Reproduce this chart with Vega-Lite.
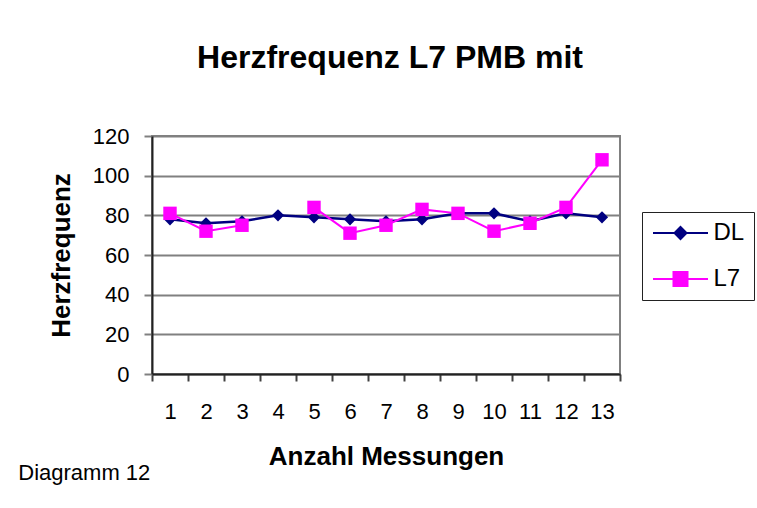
{
  "$schema": "https://vega.github.io/schema/vega-lite/v6.json",
  "background": "white",
  "padding": {"left": 18, "top": 41, "right": 6, "bottom": 10},
  "data": {"values": [
    {"n": 1, "series": "DL", "value": 78},
    {"n": 2, "series": "DL", "value": 76},
    {"n": 3, "series": "DL", "value": 77},
    {"n": 4, "series": "DL", "value": 80},
    {"n": 5, "series": "DL", "value": 79},
    {"n": 6, "series": "DL", "value": 78},
    {"n": 7, "series": "DL", "value": 77},
    {"n": 8, "series": "DL", "value": 78},
    {"n": 9, "series": "DL", "value": 81},
    {"n": 10, "series": "DL", "value": 81},
    {"n": 11, "series": "DL", "value": 77},
    {"n": 12, "series": "DL", "value": 81},
    {"n": 13, "series": "DL", "value": 79},
    {"n": 1, "series": "L7", "value": 81},
    {"n": 2, "series": "L7", "value": 72},
    {"n": 3, "series": "L7", "value": 75},
    {"n": 4, "series": "L7", "value": null},
    {"n": 5, "series": "L7", "value": 84},
    {"n": 6, "series": "L7", "value": 71},
    {"n": 7, "series": "L7", "value": 75},
    {"n": 8, "series": "L7", "value": 83},
    {"n": 9, "series": "L7", "value": 81},
    {"n": 10, "series": "L7", "value": 72},
    {"n": 11, "series": "L7", "value": 76},
    {"n": 12, "series": "L7", "value": 84},
    {"n": 13, "series": "L7", "value": 108}
  ]},
  "title": {
    "text": "Diagramm 12",
    "orient": "bottom",
    "anchor": "start",
    "frame": "bounds",
    "fontSize": 22,
    "fontWeight": "normal",
    "color": "black",
    "dx": -29,
    "dy": -7,
    "offset": 0
  },
  "vconcat": [
    {
      "width": 468,
      "height": 238,
      "title": {
        "text": "Herzfrequenz L7 PMB mit",
        "fontSize": 32,
        "fontWeight": "bold",
        "color": "black",
        "anchor": "middle",
        "frame": "group",
        "dx": 4,
        "offset": 50
      },
      "encoding": {
        "x": {
          "field": "n",
          "type": "ordinal",
          "scale": {"type": "band", "paddingInner": 0, "paddingOuter": 0},
          "axis": {
            "title": "Anzahl Messungen",
            "titleFontSize": 26,
            "titleFontWeight": "bold",
            "titleColor": "black",
            "titlePadding": 21,
            "labelAngle": 0,
            "labelFontSize": 22,
            "labelColor": "black",
            "labelPadding": 20,
            "tickBand": "extent",
            "tickSize": 7,
            "tickColor": "#404040",
            "tickWidth": 2,
            "domainColor": "#222222",
            "domainWidth": 2,
            "grid": false
          }
        },
        "y": {
          "field": "value",
          "type": "quantitative",
          "scale": {"domain": [0, 120], "nice": false},
          "axis": {
            "title": "Herzfrequenz",
            "titleFontSize": 26,
            "titleFontWeight": "bold",
            "titleColor": "black",
            "titlePadding": 18,
            "values": [0, 20, 40, 60, 80, 100, 120],
            "labelFontSize": 22,
            "labelColor": "black",
            "labelPadding": 15,
            "tickSize": 8,
            "tickColor": "#808080",
            "tickWidth": 2,
            "domainColor": "#222222",
            "domainWidth": 2,
            "grid": true,
            "gridColor": "#808080",
            "gridWidth": 2
          }
        },
        "color": {
          "field": "series",
          "type": "nominal",
          "scale": {"domain": ["DL", "L7"], "range": ["#000080", "#FF00FF"]},
          "legend": {
            "title": null,
            "orient": "none",
            "legendX": 490,
            "legendY": 76,
            "strokeColor": "#222222",
            "padding": 9,
            "labelFontSize": 24,
            "labelColor": "black",
            "labelOffset": 21,
            "rowPadding": 22,
            "symbolSize": 400,
            "symbolOffset": 17.5,
            "symbolStrokeWidth": 2,
            "encode": {
              "symbols": {
                "update": {
                  "shape": {"signal": "datum.value === 'DL' ? 'M-2.75,0H2.75M0,-0.6L0.6,0L0,0.6L-0.6,0Z' : 'M-2.75,0H2.75M-0.7,-0.7H0.7V0.7H-0.7Z'"},
                  "fill": {"signal": "datum.value === 'DL' ? '#000080' : '#FF00FF'"},
                  "stroke": {"signal": "datum.value === 'DL' ? '#000080' : '#FF00FF'"},
                  "strokeWidth": {"value": 2},
                  "opacity": {"value": 1},
                  "fillOpacity": {"value": 1}
                }
              }
            }
          }
        }
      },
      "layer": [
        {
          "transform": [{"filter": "datum.series === 'DL'"}],
          "mark": {"type": "line", "strokeWidth": 2.5, "invalid": "break-paths-show-domains"}
        },
        {
          "transform": [{"filter": "datum.series === 'DL'"}],
          "mark": {"type": "point", "shape": "diamond", "filled": true, "size": 150, "opacity": 1}
        },
        {
          "transform": [{"filter": "datum.series === 'L7'"}],
          "mark": {"type": "line", "strokeWidth": 2, "invalid": "break-paths-show-domains"}
        },
        {
          "transform": [{"filter": "datum.series === 'L7'"}],
          "mark": {"type": "point", "shape": "square", "filled": true, "size": 180, "opacity": 1}
        }
      ]
    }
  ],
  "config": {
    "font": "Liberation Sans",
    "view": {"stroke": "#808080", "strokeWidth": 2}
  }
}
